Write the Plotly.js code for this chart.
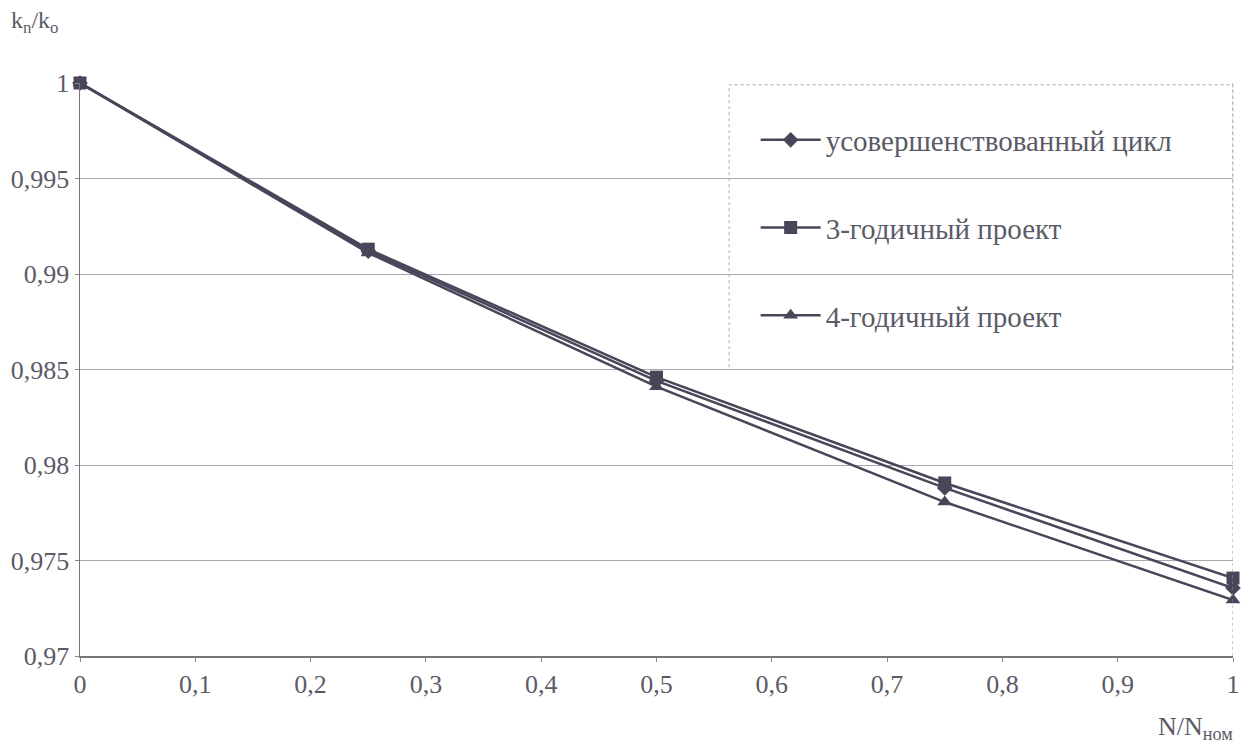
<!DOCTYPE html>
<html>
<head>
<meta charset="utf-8">
<script src="https://cdn.plot.ly/plotly-3.0.1.min.js"></script>
<style>html,body{margin:0;padding:0;background:#fff;}#chart{width:1247px;height:755px;}</style>
</head>
<body>
<div id="chart"></div>
<script>
// ---- data ----
const xLoad = [0, 0.25, 0.5, 0.75, 1];
const improvedCycle = [1.0, 0.9912, 0.9844, 0.9788, 0.97356];
const project3yr    = [1.0, 0.9913, 0.9846, 0.97906, 0.97408];
const project4yr    = [1.0, 0.9911, 0.9841, 0.97806, 0.97293];
const seriesNames = ["усовершенствованный цикл", "3-годичный проект", "4-годичный проект"];
const xTickVals = [0, 0.1, 0.2, 0.3, 0.4, 0.5, 0.6, 0.7, 0.8, 0.9, 1];
const xTickText = ["0", "0,1", "0,2", "0,3", "0,4", "0,5", "0,6", "0,7", "0,8", "0,9", "1"];
const yTickVals = [0.97, 0.975, 0.98, 0.985, 0.99, 0.995, 1];
const yTickText = ["0,97", "0,975", "0,98", "0,985", "0,99", "0,995", "1"];

const lineColor = "#4a4559";
const textColor = "#5c5a66";
const font = "Liberation Serif";

function tr(y, name, symbol, size, rank) {
  return {
    x: xLoad, y: y, name: name, type: "scatter", mode: "lines+markers",
    line: {color: lineColor, width: 2.5},
    marker: {symbol: symbol, size: size, color: lineColor},
    legendgroup: name, legendrank: rank, cliponaxis: false
  };
}

const data = [
  tr(improvedCycle, seriesNames[0], "diamond", 12, 1),
  tr(project4yr, seriesNames[2], "triangle-up", 13, 3),
  tr(project3yr, seriesNames[1], "square", 13, 2)
];

const layout = {
  width: 1247, height: 755,
  paper_bgcolor: "#fff", plot_bgcolor: "#fff",
  margin: {l: 80, r: 14, t: 83, b: 99},
  font: {family: font, size: 26, color: textColor},
  separators: ",.",
  showlegend: true,
  legend: {
    x: 0.586, y: 0.945, xanchor: "left", yanchor: "top",
    bgcolor: "rgba(0,0,0,0)", borderwidth: 0,
    font: {family: font, size: 29, color: textColor},
    traceorder: "grouped", tracegroupgap: 47, itemwidth: 60
  },
  xaxis: {
    range: [0, 1], tickvals: xTickVals, ticktext: xTickText,
    showgrid: false, zeroline: false,
    showline: true, linecolor: "#777", linewidth: 1.5,
    ticks: "outside", ticklen: 4, tickcolor: "#888",
    tickfont: {family: font, size: 26, color: textColor}
  },
  yaxis: {
    range: [0.97, 1], tickvals: yTickVals, ticktext: yTickText,
    showgrid: true, gridcolor: "#a8a8b0", gridwidth: 1,
    zeroline: false,
    showline: true, linecolor: "#777", linewidth: 1.5,
    ticks: "outside", ticklen: 4, tickcolor: "#888",
    tickfont: {family: font, size: 26, color: textColor}
  },
  shapes: [
    {type: "line", xref: "x", yref: "paper", x0: 1, x1: 1, y0: 0, y1: 1,
     line: {color: "#999", width: 1, dash: "dot"}},
    {type: "rect", xref: "paper", yref: "paper", x0: 0.563, x1: 1, y0: 0.5, y1: 0.997,
     fillcolor: "#fff", line: {color: "#aaa", width: 1, dash: "dot"}, layer: "between"}
  ],
  annotations: [
    {xref: "paper", yref: "paper", x: -0.062, y: 1.106, xanchor: "left", yanchor: "middle",
     text: "k<sub>n</sub>/k<sub>o</sub>", showarrow: false,
     font: {family: font, size: 24, color: textColor}},
    {xref: "paper", yref: "paper", x: 1.002, y: -0.125, xanchor: "right", yanchor: "middle",
     text: "N/N<sub>ном</sub>", showarrow: false,
     font: {family: font, size: 26, color: textColor}}
  ]
};

Plotly.newPlot("chart", data, layout, {displayModeBar: false, staticPlot: true});
</script>
</body>
</html>
